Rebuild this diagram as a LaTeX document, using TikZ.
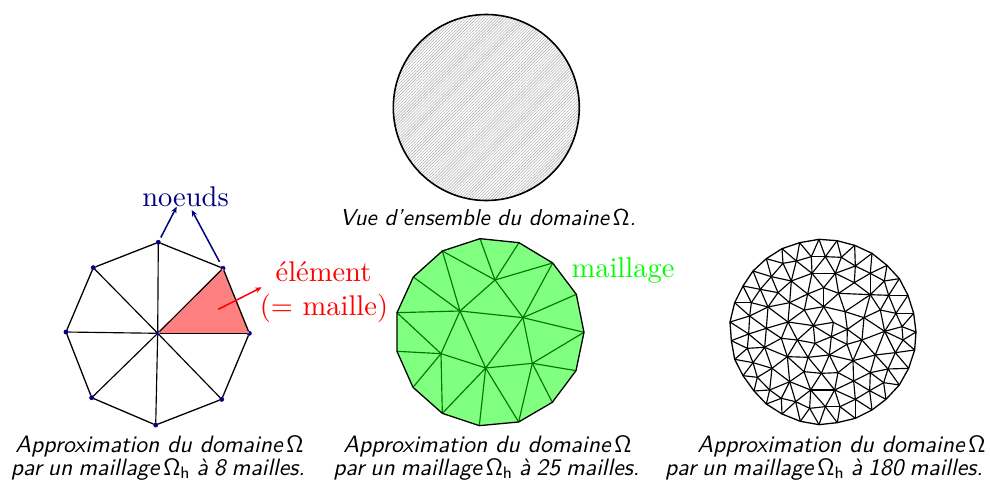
\documentclass[tikz,border=0pt]{standalone}
\usepackage{xcolor}
\usepackage{tikz}
\usetikzlibrary{arrows.meta,patterns.meta}
\definecolor{bleu}{RGB}{0,0,128}
\definecolor{rouge}{RGB}{255,0,0}
\definecolor{vert}{RGB}{0,255,0}
\definecolor{vertclair}{RGB}{128,255,128}
\definecolor{vertfonce}{RGB}{0,120,0}
\definecolor{rougeclair}{RGB}{255,128,128}
\tikzset{
  legende/.style={font=\sffamily\itshape, scale=2.37, anchor=base, inner sep=0pt},
  etiquette/.style={font=\rmfamily, scale=2.85, anchor=base, inner sep=0pt},
  noeud/.style={circle, fill=bleu, draw=bleu, inner sep=0pt, minimum size=4.4pt},
  arete/.style={draw=black, line width=1.15pt},
  bord/.style={draw=black, line width=1.3pt, line join=round},
  aretev/.style={draw=vertfonce, line width=1.15pt},
  fleche/.style={line width=1.5pt, -{Stealth[length=6.5pt,width=5.5pt]}}
}
\begin{document}
\begin{tikzpicture}[x=1pt,y=-1pt]
  \useasboundingbox (0,0) rectangle (990,480);

  % domaine
  \node[circle, minimum size=186pt, inner sep=0pt,
    draw=black, line width=1.6pt,
    pattern={Lines[angle=45,distance=2.1pt,line width=0.6pt]}, pattern color=black!30] (domaine) at (486.3,107.5) {};
  \node[legende, scale=0.97] (vue) at (488,225) {Vue d'ensemble du domaine\,$\mathsf{\Omega}$.};

  % maillage a 8 mailles
  \node[noeud] (c) at (157.7,333.3) {};
  \node[noeud] (ne) at (223,268.3) {};
  \node[noeud] (est) at (249.3,333.3) {};
  \node[noeud] (nord) at (158.3,242.3) {};
  \node[noeud] (no) at (93.3,267.7) {};
  \node[noeud] (ouest) at (66,332) {};
  \node[noeud] (so) at (91.7,397.7) {};
  \node[noeud] (sud) at (155.7,425) {};
  \node[noeud] (se) at (221.7,399.3) {};
  \fill[rougeclair] (c.center) -- (ne.center) -- (est.center) -- cycle;
  \foreach \p in {ne,est,nord,no,ouest,so,sud,se}
    \draw[arete] (c) -- (\p);
  \draw[bord] (est) -- (ne) -- (nord) -- (no) -- (ouest) -- (so) -- (sud) -- (se) -- (est);

  \node[etiquette, text=bleu] (noeuds) at (185.5,206) {noeuds};
  \coordinate (pointea) at (176.7,206.7);
  \coordinate (pointeb) at (191.7,210);
  \draw[fleche, bleu, shorten <=3pt] (nord) -- (pointea);
  \draw[fleche, bleu, shorten <=5pt] (ne) -- (pointeb);

  \node[etiquette, text=rouge] (element) at (323.5,281) {élément};
  \node[etiquette, text=rouge] (maille) at (324,315) {(= maille)};
  \coordinate (depart) at (218.3,309.3);
  \coordinate (pointec) at (261.7,287.3);
  \draw[fleche, rouge] (depart) -- (pointec);

  \node[legende] (aa) at (159.5,452) {Approximation du domaine\,$\mathsf{\Omega}$};
  \node[legende] (ab) at (158,475) {\spaceskip=.25em par un maillage\,$\mathsf{\Omega_h}$ à 8 mailles.};

  % maillage a 25 mailles
  \begin{scope}[shift={(385,230)},scale=0.3333]
    \foreach \n/\x/\y in {b1/285/26,b2/402/38,b3/503/99,b4/574/193,b5/597/307,b6/573/422,b7/502/517,
      b8/401/576,b9/283/587,b10/172/550,b11/84/472,b12/36/364,b13/36/248,b14/85/141,b15/172/63,
      pa/330/150,pc/414/263,pd/225/243,pe/168/371,pf/302/414,pg/442/400}
      \coordinate (\n) at (\x,\y);
    \fill[vertclair] (b1) -- (b2) -- (b3) -- (b4) -- (b5) -- (b6) -- (b7) -- (b8) -- (b9) -- (b10)
      -- (b11) -- (b12) -- (b13) -- (b14) -- (b15) -- cycle;
    \foreach \a/\b in {b1/pa,b2/pa,b3/pa,b15/pa,b15/pd,b14/pd,b13/pd,b13/pe,b12/pe,b11/pe,b10/pe,
      b10/pf,b9/pf,b8/pf,b8/pg,b7/pg,b6/pg,b5/pg,b5/pc,b4/pc,b3/pc,pa/pc,pa/pd,pd/pc,pd/pe,pd/pf,
      pe/pf,pf/pc,pf/pg,pg/pc}
      \draw[aretev] (\a) -- (\b);
    \draw[bord] (b1) -- (b2) -- (b3) -- (b4) -- (b5) -- (b6) -- (b7) -- (b8) -- (b9) -- (b10)
      -- (b11) -- (b12) -- (b13) -- (b14) -- (b15) -- cycle;
  \end{scope}
  \node[etiquette, text=vert] (maillage) at (623,277.7) {maillage};
  \node[legende] (ba) at (487.5,452) {Approximation du domaine\,$\mathsf{\Omega}$};
  \node[legende] (bb) at (486.5,475) {\spaceskip=.25em par un maillage\,$\mathsf{\Omega_h}$ à 25 mailles.};

  % maillage a 180 mailles
  \begin{scope}[shift={(720,230)},scale=0.3333]
    \foreach \n/\x/\y in {s0/297/28,s1/351/32,s2/404/46,s3/456/70,s4/501/106,s5/538/146,s6/564/196,
      s7/581/250,s8/588/306,s9/584/360,s10/566/415,s11/538/465,s12/498/508,s13/456/540,s14/406/565,
      s15/352/578,s16/297/584,s17/241/574,s18/186/552,s19/139/522,s20/102/483,s21/69/437,s22/44/388,
      s23/34/332,s24/30/276,s25/44/218,s26/69/168,s27/99/123,s28/139/86,s29/186/56,s30/239/38,
      a1/189/100,a2/229/93,a3/274/80,a4/316/80,a5/364/82,a6/406/108,
      c1/154/140,c2/214/153,c3/276/130,c4/346/130,c5/403/158,c6/451/130,c7/493/153,
      d1/121/178,d2/174/188,d3/263/192,d4/311/173,d5/356/190,d6/451/194,d7/506/196,
      e1/94/218,e2/144/231,e3/209/218,e4/253/240,e5/311/230,e6/375/245,e7/481/240,e8/528/250,
      f1/89/258,f2/204/276,f3/280/287,f4/340/277,f5/382/298,f6/432/263,f7/494/304,f8/546/290,
      g1/86/312,g2/139/295,g3/184/325,g4/232/330,g5/285/340,g6/334/320,g7/426/330,g8/381/343,g9/549/330,
      h1/82/355,h2/134/352,h3/202/380,h4/264/382,h5/328/375,h6/399/392,h7/466/375,h8/526/368,
      i1/99/398,i2/156/415,i3/252/425,i4/304/430,i5/354/428,i6/451/428,i7/504/417,
      j1/112/442,j2/209/455,j3/401/453,j4/491/458,j5/149/480,j6/272/480,j7/344/480,j8/449/482,
      k1/184/505,k2/227/515,k3/269/535,k4/316/530,k5/360/530,k6/406/508}
      \coordinate (\n) at (\x,\y);
    % couronne exterieure
    \foreach \a/\b in {s0/a3,s0/a4,s1/a4,s1/a5,s2/a5,s2/a6,s3/a6,s3/c6,s4/c6,s4/c7,s5/c7,s5/d7,
      s6/d7,s6/e8,s7/e8,s7/f8,s8/f8,s8/g9,s9/g9,s9/h8,s10/h8,s10/i7,s11/i7,s11/j4,s12/j4,s12/j8,
      s13/j8,s13/k6,s14/k6,s14/k5,s15/k5,s15/k4,s16/k4,s16/k3,s17/k3,s17/k2,s18/k2,s18/k1,s19/k1,
      s19/j5,s20/j5,s20/j1,s21/j1,s21/i1,s22/i1,s22/h1,s23/h1,s23/g1,s24/g1,s24/f1,s25/f1,s25/e1,
      s26/e1,s26/d1,s27/d1,s27/c1,s28/c1,s28/a1,s29/a1,s29/a2,s30/a2,s30/a3,
      a3/a4,a4/a5,a5/a6,a6/c6,c6/c7,c7/d7,d7/e8,e8/f8,f8/g9,g9/h8,h8/i7,i7/j4,j4/j8,j8/k6,k6/k5,
      k5/k4,k4/k3,k3/k2,k2/k1,k1/j5,j5/j1,j1/i1,i1/h1,h1/g1,g1/f1,f1/e1,e1/d1,d1/c1,c1/a1,a1/a2,a2/a3}
      \draw[arete] (\a) -- (\b);
    % deuxieme couronne
    \foreach \a/\b in {a3/c3,a2/c3,a4/c3,a4/c4,a5/c4,a6/c4,a6/c5,c6/c5,c6/d6,c7/d6,d7/d6,d7/e7,e8/e7,
      e8/f7,f8/f7,g9/f7,h8/f7,h8/h7,i7/h7,i7/i6,j4/i6,j8/i6,j8/j3,k6/j3,k6/j7,k5/j7,k4/j7,k4/j6,k3/j6,
      k2/j6,k2/j2,k1/j2,j5/j2,j5/i2,j1/i2,i1/i2,i1/h2,h1/h2,g1/h2,g1/g2,f1/g2,f1/e2,e1/e2,d1/e2,d1/d2,
      c1/d2,c1/c2,a1/c2,a2/c2,
      c3/c4,c4/c5,c5/d6,d6/e7,e7/f7,f7/h7,h7/i6,i6/j3,j3/j7,j7/j6,j6/j2,j2/i2,i2/h2,h2/g2,g2/e2,e2/d2,
      d2/c2,c2/c3}
      \draw[arete] (\a) -- (\b);
    % troisieme couronne
    \foreach \a/\b in {c3/d4,c4/d4,c4/d5,c5/d5,d6/d5,d6/e6,d6/f6,e7/f6,f7/f6,f7/g7,h7/g7,h7/h6,i6/h6,
      j3/h6,j3/i5,j7/i5,j7/i4,j6/i4,j6/i3,j2/i3,j2/h3,i2/h3,h2/h3,h2/g3,g2/g3,g2/f2,e2/f2,e2/e3,d2/e3,
      c2/e3,c2/d3,c3/d3,
      d3/d4,d4/d5,d5/e6,e6/f6,f6/g7,g7/h6,h6/i5,i5/i4,i4/i3,i3/h3,h3/g3,g3/f2,f2/e3,e3/d3}
      \draw[arete] (\a) -- (\b);
    % centre
    \foreach \a/\b in {d3/e4,d3/e5,d4/e5,d5/e5,e6/e5,e6/f5,f6/f5,g7/f5,g7/g8,h6/g8,h6/h5,i5/h5,i4/h5,
      i4/h4,i3/h4,h3/h4,h3/g4,g3/g4,f2/g4,f2/e4,e3/e4,
      e4/e5,e5/f4,f4/f5,f5/g8,g8/h5,h5/h4,h4/g4,f2/f3,e4/f3,g4/f3,e5/f3,f3/f4,f5/g6,h5/g6,g8/g6,
      h5/g5,h4/g5,g4/g5,f3/g5,g5/g6,f3/g6,f4/g6}
      \draw[arete] (\a) -- (\b);
    \draw[bord] (s0) -- (s1) -- (s2) -- (s3) -- (s4) -- (s5) -- (s6) -- (s7) -- (s8) -- (s9) -- (s10)
      -- (s11) -- (s12) -- (s13) -- (s14) -- (s15) -- (s16) -- (s17) -- (s18) -- (s19) -- (s20)
      -- (s21) -- (s22) -- (s23) -- (s24) -- (s25) -- (s26) -- (s27) -- (s28) -- (s29) -- (s30) -- cycle;
  \end{scope}
  \node[legende] (ca) at (841.5,452) {Approximation du domaine\,$\mathsf{\Omega}$};
  \node[legende] (cb) at (824,475) {\spaceskip=.25em par un maillage\,$\mathsf{\Omega_h}$ à 180 mailles.};
\end{tikzpicture}
\end{document}
